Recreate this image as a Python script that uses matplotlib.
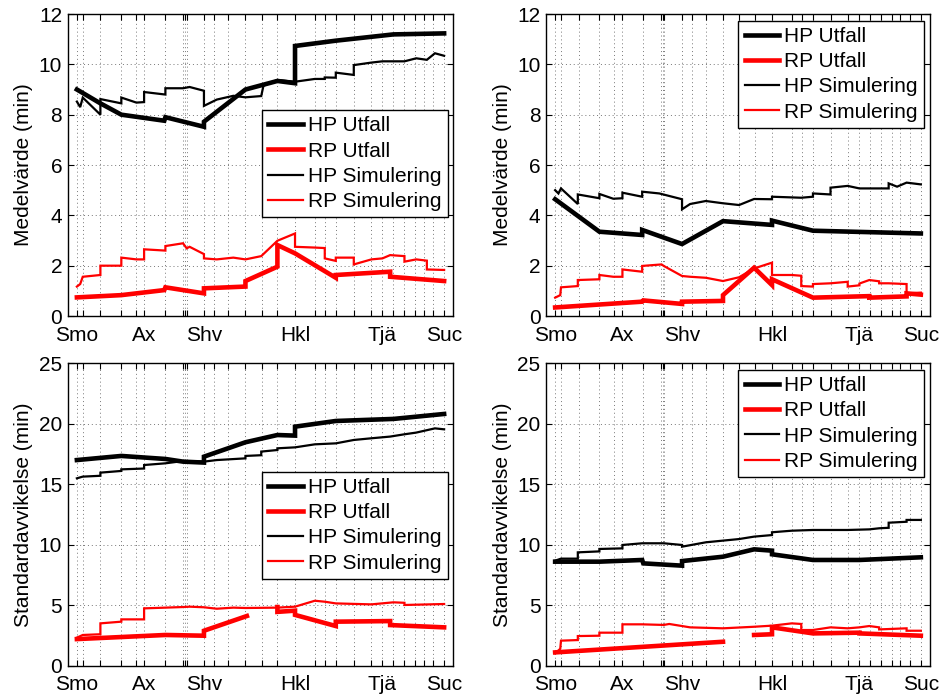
import numpy as np
import matplotlib
matplotlib.use("Agg")
import matplotlib.pyplot as plt

plt.rcParams['font.family'] = ['Liberation Sans', 'DejaVu Sans']
plt.rcParams['font.size'] = 15

# station positions along the line (relative distance, Smo = 0, Suc = 100)
stations = [0, 1.6, 6.4, 12.1, 16.2, 18.3, 24.1, 28.9, 29.4, 29.9, 34.6, 37.4,
            41.2, 45.9, 50.4, 54.6, 59.4, 64.8, 67.5, 70.5, 75.4, 80.2, 83.2,
            86.2, 89.1, 92.0, 94.4, 97.0, 100]
label_pos = [0, 18.3, 34.6, 59.4, 83.2, 100]
label_names = ['Smo', 'Ax', 'Shv', 'Hkl', 'Tjä', 'Suc']

# --- Medelvärde, vänster ---
m1_hp_utf_x = [0, 6.4, 12.1, 23.8, 24.1, 34.6, 34.6, 45.9, 54.6, 59.4, 59.4, 70.5, 86.2, 100]
m1_hp_utf_y = [9.0, 8.45, 8.0, 7.76, 7.9, 7.52, 7.72, 9.0, 9.34, 9.25, 10.73, 10.94, 11.19, 11.23]
m1_hp_sim_x = [0, 0.9, 1.6, 6.4, 6.4, 12.1, 12.1, 16.2, 18.3, 18.3, 24.1, 24.1, 28.9, 30.7,
               34.6, 34.6, 38.1, 42.6, 45.9, 50.2, 50.8, 54.6, 59.4, 64.8, 67.5, 67.5, 70.5,
               70.5, 75.4, 75.4, 80.2, 83.2, 86.2, 89.2, 92.4, 95.3, 97.5, 100]
m1_hp_sim_y = [8.52, 8.3, 8.68, 8.0, 8.62, 8.45, 8.68, 8.48, 8.5, 8.9, 8.8, 9.05, 9.05, 9.1,
               8.95, 8.35, 8.6, 8.75, 8.69, 8.74, 9.15, 9.38, 9.31, 9.42, 9.42, 9.48, 9.47,
               9.67, 9.58, 9.97, 10.07, 10.12, 10.12, 10.12, 10.24, 10.18, 10.44, 10.34]
m1_rp_utf_x = [0, 12.1, 23.8, 24.1, 34.6, 34.6, 45.9, 45.9, 54.6, 54.6, 59.4, 70.5, 70.5,
               85.3, 85.3, 100]
m1_rp_utf_y = [0.74, 0.83, 1.03, 1.14, 0.9, 1.1, 1.17, 1.39, 1.96, 2.82, 2.49, 1.52, 1.63,
               1.76, 1.56, 1.39]
m1_rp_sim_x = [0, 0.9, 1.6, 6.4, 6.4, 12.1, 12.1, 16.2, 18.3, 18.3, 24.1, 24.1, 28.9, 29.9,
               30.7, 34.6, 34.6, 38.1, 42.6, 45.9, 50.2, 54.6, 59.4, 59.4, 64.8, 67.5, 67.5,
               70.5, 70.5, 75.4, 75.4, 80.2, 83.2, 85.3, 89.2, 89.2, 92.4, 95.3, 95.3, 100]
m1_rp_sim_y = [1.17, 1.27, 1.56, 1.63, 2.0, 2.0, 2.32, 2.25, 2.25, 2.65, 2.6, 2.78, 2.89, 2.69,
               2.75, 2.46, 2.29, 2.25, 2.32, 2.25, 2.38, 2.99, 3.28, 2.75, 2.72, 2.7, 2.29,
               2.19, 2.32, 2.32, 2.05, 2.25, 2.29, 2.42, 2.38, 2.16, 2.25, 2.2, 1.85, 1.83]

# --- Medelvärde, höger ---
m2_hp_utf_x = [0, 12.1, 23.8, 23.8, 34.7, 45.9, 59.3, 59.3, 70.5, 100]
m2_hp_utf_y = [4.64, 3.35, 3.22, 3.42, 2.86, 3.77, 3.62, 3.79, 3.39, 3.28]
m2_hp_sim_x = [0, 0.9, 1.6, 6.2, 6.2, 12.1, 12.1, 15.9, 18.4, 18.4, 23.8, 23.8, 28.5, 34.7,
               34.7, 36.9, 41.2, 45.9, 50.3, 54.4, 59.3, 59.3, 67.3, 70.5, 70.5, 75.3, 75.3,
               80.0, 83.2, 91.2, 91.2, 93.5, 96.1, 100]
m2_hp_sim_y = [5.0, 4.87, 5.07, 4.45, 4.83, 4.68, 4.85, 4.66, 4.68, 4.9, 4.74, 4.94, 4.87, 4.64,
               4.24, 4.45, 4.57, 4.48, 4.41, 4.65, 4.64, 4.74, 4.7, 4.74, 4.87, 4.83, 5.1,
               5.17, 5.07, 5.07, 5.27, 5.14, 5.3, 5.23]
m2_rp_utf_x = [0, 23.8, 24.1, 34.7, 34.7, 45.9, 45.9, 54.4, 59.3, 59.3, 70.5, 85.9, 85.9,
               96.1, 96.1, 100]
m2_rp_utf_y = [0.34, 0.57, 0.62, 0.48, 0.57, 0.6, 0.83, 1.92, 1.23, 1.46, 0.73, 0.79, 0.73,
               0.78, 0.9, 0.85]
m2_rp_sim_x = [0, 1.4, 1.6, 6.2, 6.2, 12.1, 12.1, 15.9, 18.4, 18.4, 23.8, 23.8, 29.1, 29.7,
               34.7, 36.9, 41.2, 45.9, 50.3, 54.4, 59.3, 59.3, 64.7, 67.3, 67.3, 70.5, 70.5,
               75.3, 80.0, 80.0, 83.2, 83.2, 85.9, 88.6, 88.6, 91.2, 96.1, 96.1, 100]
m2_rp_sim_y = [0.73, 0.83, 1.14, 1.19, 1.43, 1.46, 1.63, 1.56, 1.56, 1.85, 1.76, 1.99, 2.05,
               1.99, 1.59, 1.56, 1.52, 1.39, 1.54, 1.89, 2.12, 1.63, 1.63, 1.6, 1.19, 1.17,
               1.27, 1.3, 1.36, 1.17, 1.22, 1.29, 1.43, 1.38, 1.3, 1.3, 1.27, 0.9, 0.93]

# --- Standardavvikelse, vänster ---
s1_hp_utf_x = [0, 12.1, 24.1, 28.9, 34.6, 34.6, 45.9, 54.6, 59.4, 59.4, 70.5, 86.2, 100]
s1_hp_utf_y = [17.0, 17.34, 17.09, 16.87, 16.79, 17.28, 18.47, 19.07, 19.02, 19.76, 20.23,
               20.4, 20.81]
s1_hp_sim_x = [0, 1.6, 6.4, 6.4, 12.1, 12.1, 18.3, 18.3, 24.1, 28.9, 34.6, 38.1, 45.9, 45.9,
               50.2, 50.2, 54.6, 54.6, 59.4, 64.8, 70.5, 75.4, 80.2, 85.3, 89.2, 92.4, 97.5, 100]
s1_hp_sim_y = [15.49, 15.63, 15.7, 15.96, 16.1, 16.23, 16.3, 16.59, 16.73, 16.92, 16.87, 17.0,
               17.14, 17.34, 17.4, 17.7, 17.83, 17.97, 18.05, 18.3, 18.38, 18.66, 18.8, 18.94,
               19.13, 19.27, 19.62, 19.54]
s1_rp_utf_x = [0, 24.1, 34.6, 34.6, 46.3, np.nan, 54.6, 54.6, 59.4, 59.4, 70.5, 70.5, 85.3,
               85.3, 100]
s1_rp_utf_y = [2.2, 2.54, 2.48, 2.89, 4.11, np.nan, 4.85, 4.45, 4.55, 4.2, 3.28, 3.64, 3.69,
               3.36, 3.17]
s1_rp_sim_x = [0, 1.6, 6.4, 6.4, 12.1, 12.1, 18.3, 18.3, 24.1, 28.9, 30.7, 34.6, 38.1, 42.6,
               45.9, 54.6, 59.4, 64.8, 67.5, 70.5, 80.2, 86.2, 89.2, 89.2, 100]
s1_rp_sim_y = [2.32, 2.54, 2.6, 3.5, 3.64, 3.83, 3.83, 4.74, 4.8, 4.85, 4.88, 4.83, 4.71, 4.8,
               4.77, 4.8, 4.88, 5.37, 5.29, 5.15, 5.07, 5.24, 5.2, 5.02, 5.1]

# --- Standardavvikelse, höger ---
s2_hp_utf_x = [0, 12.1, 23.8, 24.1, 34.7, 34.7, 45.9, 54.4, 59.3, 59.3, 70.5, 83.2, 100]
s2_hp_utf_y = [8.6, 8.6, 8.74, 8.46, 8.27, 8.65, 9.01, 9.62, 9.51, 9.21, 8.74, 8.74, 8.96]
s2_hp_sim_x = [0, 1.6, 6.2, 6.2, 12.1, 12.1, 18.4, 18.4, 23.8, 29.7, 34.7, 34.7, 41.2, 45.9,
               50.3, 54.4, 59.3, 59.3, 64.7, 70.5, 80.0, 85.9, 88.6, 91.2, 91.2, 96.1, 96.1, 100]
s2_hp_sim_y = [8.68, 8.85, 8.85, 9.37, 9.45, 9.65, 9.7, 9.98, 10.12, 10.12, 9.98, 9.84, 10.2,
               10.34, 10.47, 10.67, 10.8, 11.03, 11.16, 11.22, 11.22, 11.27, 11.36, 11.4,
               11.82, 11.9, 12.05, 12.05]
s2_rp_utf_x = [0, 45.9, np.nan, 54.4, 59.3, 59.3, 70.5, 83.2, 83.2, 100]
s2_rp_utf_y = [1.1, 1.98, np.nan, 2.54, 2.6, 3.17, 2.67, 2.73, 2.67, 2.48]
s2_rp_sim_x = [0, 1.4, 1.6, 6.2, 6.2, 12.1, 12.1, 18.4, 18.4, 23.8, 29.7, 31.2, 36.9, 45.9,
               54.4, 59.3, 64.7, 67.3, 67.3, 70.5, 75.3, 80.0, 83.2, 85.9, 88.6, 88.6, 96.1,
               96.1, 100]
s2_rp_sim_y = [1.02, 1.4, 2.07, 2.12, 2.45, 2.48, 2.73, 2.73, 3.42, 3.42, 3.37, 3.45, 3.17,
               3.09, 3.22, 3.31, 3.5, 3.45, 2.95, 2.95, 3.17, 3.09, 3.17, 3.28, 3.17, 3.0,
               3.09, 2.89, 2.89]

legend_labels = ['HP Utfall', 'RP Utfall', 'HP Simulering', 'RP Simulering']

panels = [
    dict(rect=[0.0718, 0.5466, 0.4089, 0.4333], ylabel='Medelvärde (min)', ymax=12, ystep=2,
         leg=(0.9855, 0.682),
         data=[(m1_hp_utf_x, m1_hp_utf_y), (m1_rp_utf_x, m1_rp_utf_y),
               (m1_hp_sim_x, m1_hp_sim_y), (m1_rp_sim_x, m1_rp_sim_y)]),
    dict(rect=[0.5790, 0.5466, 0.4072, 0.4333], ylabel='Medelvärde (min)', ymax=12, ystep=2,
         leg=(0.984, 0.978),
         data=[(m2_hp_utf_x, m2_hp_utf_y), (m2_rp_utf_x, m2_rp_utf_y),
               (m2_hp_sim_x, m2_hp_sim_y), (m2_rp_sim_x, m2_rp_sim_y)]),
    dict(rect=[0.0718, 0.0449, 0.4089, 0.4339], ylabel='Standardavvikelse (min)', ymax=25, ystep=5,
         leg=(0.9855, 0.6415),
         data=[(s1_hp_utf_x, s1_hp_utf_y), (s1_rp_utf_x, s1_rp_utf_y),
               (s1_hp_sim_x, s1_hp_sim_y), (s1_rp_sim_x, s1_rp_sim_y)]),
    dict(rect=[0.5790, 0.0449, 0.4072, 0.4339], ylabel='Standardavvikelse (min)', ymax=25, ystep=5,
         leg=(0.984, 0.978),
         data=[(s2_hp_utf_x, s2_hp_utf_y), (s2_rp_utf_x, s2_rp_utf_y),
               (s2_hp_sim_x, s2_hp_sim_y), (s2_rp_sim_x, s2_rp_sim_y)]),
]

colors = ['black', 'red', 'black', 'red']
widths = [3.3, 3.3, 1.6, 1.6]

fig = plt.figure(figsize=(9.43, 6.97), dpi=100)

for p in panels:
    ax = fig.add_axes(p['rect'])
    for (x, y), c, lw in zip(p['data'], colors, widths):
        ax.plot(x, y, color=c, lw=lw, solid_joinstyle='miter')

    ax.set_xlim(-2.5, 102.5)
    ax.set_ylim(0, p['ymax'])
    ax.set_yticks(np.arange(0, p['ymax'] + 1, p['ystep']))
    # only the main stations get a label, the rest just a tick + grid line
    labels = []
    for s in stations:
        name = ''
        for lp, ln in zip(label_pos, label_names):
            if abs(lp - s) < 0.05:
                name = ln
        labels.append(name)
    ax.set_xticks(stations)
    ax.set_xticklabels(labels)
    ax.tick_params(direction='in', top=True, right=True, length=4, width=0.8)
    ax.tick_params(axis='x', pad=7)
    ax.tick_params(axis='y', pad=4)
    ax.grid(True, color='#777777', linestyle=(0, (1, 3)), linewidth=0.7)
    for sp in ax.spines.values():
        sp.set_linewidth(1.0)
    ax.set_ylabel(p['ylabel'], labelpad=4)

    leg = ax.legend(legend_labels, loc='upper right', bbox_to_anchor=p['leg'],
                    borderaxespad=0, fancybox=False, framealpha=1, edgecolor='black',
                    handlelength=1.65, handletextpad=0.25, labelspacing=0.3,
                    borderpad=0.3)
    leg.get_frame().set_linewidth(1.0)

fig.savefig('out.png', dpi=100)
